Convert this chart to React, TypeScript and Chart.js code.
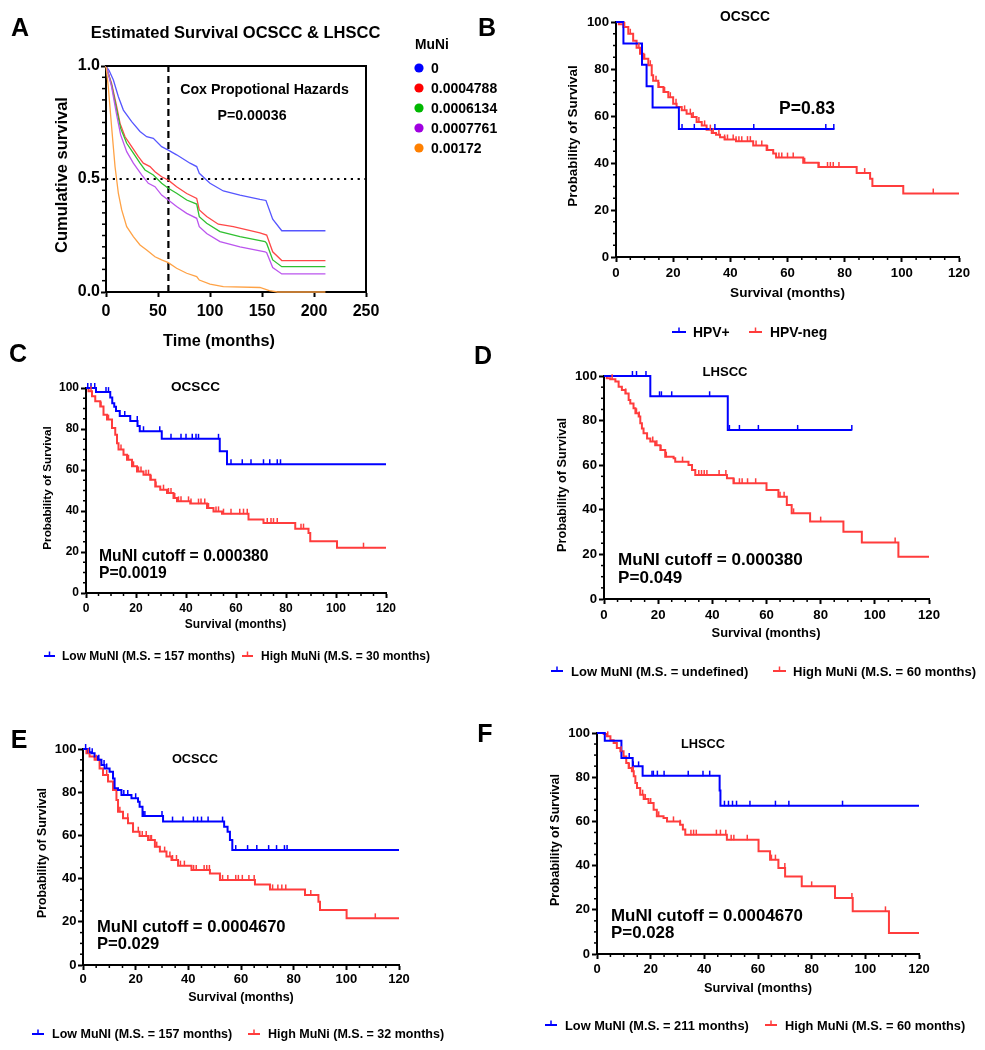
import React, { useEffect, useRef } from 'react';
import { Chart, registerables } from 'chart.js';
Chart.register(...registerables);

const FONT = '"Liberation Sans", Arial, Helvetica, sans-serif';
const BLUE = '#0000ff';
const RED = '#ff3c3c';

// ---------------- Panel A data (Cox model estimated survival) ----------------
const muniLevels = ['0', '0.0004788', '0.0006134', '0.0007761', '0.00172'];
const muniDotColors = ['#0000ff', '#ff0000', '#00b800', '#a000e0', '#ff8000'];
const muniLineColors = ['#5656ff', '#ff4848', '#30c030', '#bb55ee', '#ffa245'];
const aBlueT = [0, 3, 7.1, 11.9, 16.7, 24.7, 32.7, 39.1, 45.5, 53.5, 59.9, 67.9, 80.8, 87.2, 89.7, 100, 112.8, 128.8, 148, 153.8, 160.3, 169, 211];
const aBlueS = [1, 0.98, 0.938, 0.864, 0.805, 0.754, 0.71, 0.687, 0.68, 0.643, 0.628, 0.607, 0.57, 0.555, 0.525, 0.481, 0.447, 0.429, 0.41, 0.405, 0.322, 0.271, 0.271];
const aRedT = [0, 2, 5.4, 10.3, 13.5, 18.3, 24.7, 31.1, 35.9, 42.3, 47.1, 53.5, 59.9, 67.9, 77.6, 87.2, 89.7, 96.8, 108, 122.4, 148, 154.5, 160.3, 169, 211];
const aRedS = [1, 0.97, 0.923, 0.82, 0.746, 0.687, 0.643, 0.599, 0.57, 0.555, 0.532, 0.51, 0.495, 0.466, 0.436, 0.414, 0.363, 0.334, 0.3, 0.289, 0.262, 0.252, 0.178, 0.139, 0.139];
const aGreenT = [0, 2, 5.4, 10.3, 14.1, 19.9, 26.3, 32.7, 37.5, 45.5, 53.5, 59.9, 67.9, 77.6, 87.2, 89.7, 96.8, 109.6, 128.8, 152.9, 154.5, 160.3, 169, 211];
const aGreenS = [1, 0.97, 0.915, 0.805, 0.724, 0.658, 0.614, 0.57, 0.54, 0.518, 0.481, 0.459, 0.437, 0.407, 0.389, 0.333, 0.304, 0.267, 0.245, 0.223, 0.215, 0.142, 0.112, 0.112];
const aPurpleT = [0, 2, 5.4, 10.3, 14.1, 19.9, 26.3, 34.3, 40.7, 47.1, 53.5, 59.9, 67.9, 77.6, 87.2, 89.7, 96.8, 109.6, 128.8, 152.9, 154.5, 160.3, 169, 211];
const aPurpleS = [1, 0.97, 0.908, 0.783, 0.695, 0.621, 0.57, 0.518, 0.481, 0.466, 0.429, 0.407, 0.378, 0.348, 0.326, 0.289, 0.259, 0.223, 0.2, 0.178, 0.174, 0.108, 0.08, 0.08];
const aOrangeT = [0, 2.2, 5.4, 8.7, 11.9, 15.1, 19.9, 26.3, 32.7, 39.1, 47.1, 53.5, 59.9, 67.9, 77.6, 87.2, 89.7, 100, 112.8, 148, 157, 165, 211];
const aOrangeS = [1, 0.908, 0.73, 0.554, 0.436, 0.363, 0.289, 0.245, 0.208, 0.186, 0.156, 0.142, 0.13, 0.105, 0.083, 0.068, 0.053, 0.035, 0.024, 0.02, 0.006, 0, 0];
const aCutoffMonth = 60;
const aHalfSurvival = 0.5;

// ---------------- Panel B data (OCSCC, HPV) ----------------
const bPosT = [0, 2.6, 9.1, 10.7, 12.8, 22, 76.4];
const bPosS = [100, 90.9, 81.8, 72.7, 63.6, 54.5, 54.5];
const bPosCens = [23.1, 27.4, 34.6, 48.2, 73.4, 76.2];
const bNegT = [0, 1, 2.6, 4.3, 6, 7.2, 8.4, 9.6, 11.3, 12.5, 13, 14.8, 16.6, 18.3, 20, 21.2, 23, 24.7, 26.5, 28.2, 30, 31.7, 33.5, 35, 36.4, 38, 42, 48, 52.7, 55, 56, 65.5, 70.8, 84.2, 88.9, 89.7, 100.5, 120];
const bNegS = [100, 99, 97.9, 95, 92, 89, 86.5, 84.4, 81.6, 77.3, 75, 72.3, 70.2, 68, 65.2, 63.8, 62.4, 61, 59.6, 57.4, 56, 54.2, 52.8, 52, 51, 50, 49.3, 47.5, 45.5, 44, 42.3, 40.1, 38.3, 35.7, 33.3, 30.2, 27, 27];
const bNegCens = [3, 5, 8, 10, 12, 14, 15, 17, 19, 21, 24, 26, 27, 29, 31, 33, 34, 36, 38, 39, 41, 42, 43, 44, 46, 47, 49, 51, 53, 57, 58, 60, 62, 66, 71, 74, 75, 76, 78, 87, 111];

// ---------------- Panel C data (OCSCC, cutoff 0.000380) ----------------
const cLowT = [0, 4, 9.7, 10.5, 11.3, 12, 13.5, 17.7, 20.6, 21.5, 30.3, 53.5, 56.4, 120];
const cLowS = [100, 98, 95.4, 92.6, 90.9, 88.8, 86.3, 83.9, 81.5, 78.9, 75.2, 69.1, 62.8, 62.8];
const cLowCens = [0.7, 2, 3.5, 8, 9, 15.5, 20.5, 23, 29.5, 34, 38, 40, 42.5, 44, 45, 53, 58, 62.5, 66, 71, 73.5, 76.5, 77.8];
const cHighT = [0, 1, 2.4, 3.7, 5.7, 7, 8.4, 10.4, 11.7, 12.4, 13, 15, 16.4, 18.4, 20.4, 23, 25.7, 27.7, 29.7, 32.4, 35, 36.4, 41.7, 48.4, 51, 54.4, 65, 71, 83.7, 89, 89.7, 100.4, 120];
const cHighS = [100, 98.4, 96, 93.5, 91, 87, 84.6, 80.5, 77.2, 73, 70, 67.5, 65, 61.8, 59.3, 57.7, 55.3, 52, 50.4, 48.8, 46.3, 44.7, 43.6, 41.5, 39.8, 38.7, 35.8, 34.1, 31.4, 29.3, 25.2, 22.1, 22.1];
const cHighCens = [2, 6, 9, 14, 17, 19, 21, 22, 24, 25, 26, 28, 31, 33, 34, 35.5, 37, 38, 41, 42, 45, 46, 47.5, 49, 52, 53, 55, 58, 61.5, 63, 64.5, 72.5, 74, 75, 76.5, 86, 87, 111];

// ---------------- Panel D data (LHSCC, cutoff 0.000380) ----------------
const dLowT = [0, 17.1, 45.7, 91.5];
const dLowS = [100, 90.9, 75.8, 75.8];
const dLowCens = [10.5, 12, 15.5, 20.5, 21.2, 25, 39, 46.3, 50, 57, 71.5, 91.5];
const dHighT = [0, 1, 2.3, 4.2, 5.4, 6.6, 7.9, 9.1, 9.7, 10.9, 11.6, 12.8, 13.4, 14, 14.6, 15.9, 17.1, 18.9, 20.8, 22.6, 25.7, 26.3, 31.2, 32.5, 33.7, 45.4, 47.8, 60, 64.4, 67.5, 69.3, 76.1, 88.4, 95.2, 108.7, 120];
const dHighS = [100, 99, 98.5, 97.5, 95.2, 93.7, 92.2, 89.2, 87.7, 85.5, 83.3, 81.8, 78.8, 76.5, 74.3, 72, 70.6, 69, 66.8, 63.8, 63.1, 61.6, 60.1, 57.8, 55.6, 54.1, 51.9, 48.9, 45.9, 42.2, 38.4, 34.7, 30.2, 25.3, 19, 19];
const dHighCens = [3, 8, 12, 13, 18, 19.5, 21, 23, 29, 35, 36, 37, 38, 42.5, 45, 48, 50, 51, 53, 56, 65, 66.5, 70, 80, 107.5];

// ---------------- Panel E data (OCSCC, cutoff 0.0004670) ----------------
const eLowT = [0, 1.9, 3.2, 4.4, 5.7, 7, 8.2, 10.1, 11.4, 12, 13.3, 14.6, 18.4, 20.9, 21.5, 22.6, 30.4, 53.6, 54.9, 55.8, 56.7, 120];
const eLowS = [100, 98.5, 98, 96.5, 95, 92.6, 91, 89.5, 86.4, 81.8, 81, 78.7, 77.2, 75.6, 73.3, 69, 66.4, 64, 61.7, 57.9, 53.2, 53.2];
const eLowCens = [1, 2.5, 3.5, 6, 8, 9, 15.5, 17, 20, 23, 23.5, 30, 34, 38, 42, 43.5, 45, 47.5, 53, 58, 62.5, 66, 70.5, 73.5, 76.5, 77.5];
const eHighT = [0, 1.3, 2.5, 4.4, 6.3, 7.6, 9.5, 11.4, 12.7, 13.3, 15.2, 17.1, 19, 21.5, 24.7, 27.3, 29.2, 31.7, 33.6, 36.1, 41.2, 48.2, 52, 65.3, 71, 84.3, 89.4, 90, 100.1, 120];
const eHighS = [100, 98, 96.5, 95, 91, 88, 84.9, 81, 76.4, 71, 67.9, 65.6, 61.7, 59.7, 57.9, 54.8, 52.5, 50.2, 48.6, 46, 44, 42.4, 39.4, 37.3, 35, 32.4, 29.3, 25.5, 21.6, 21.6];
const eHighCens = [2, 5, 9, 14, 17, 19, 21, 22.5, 24, 25.5, 26, 28, 31, 33, 34, 35.5, 37, 38.5, 42, 43, 46, 47, 48, 52, 53, 55, 58, 59, 60.5, 63, 65, 72, 74, 75.5, 77, 86.5, 111];

// ---------------- Panel F data (LHSCC, cutoff 0.0004670) ----------------
const fLowT = [0, 2.9, 9.1, 13.3, 17, 45.7, 46, 120];
const fLowS = [100, 96.5, 88.7, 84.9, 80.7, 74, 67.1, 67.1];
const fLowCens = [12, 13.5, 15.5, 20.5, 21, 22.5, 25, 34, 39.5, 42, 47.5, 49, 50.5, 52, 57, 66.5, 71.5, 91.5];
const fHighT = [0, 2.5, 3.7, 5, 6.2, 7.4, 8.7, 9.9, 10.9, 11.8, 13, 13.7, 14.3, 14.9, 16.1, 17.4, 19.2, 21.1, 22.3, 24.8, 26.1, 31, 32, 32.9, 48.4, 60.2, 64.5, 67.6, 70.1, 76.3, 88.7, 95.3, 108.8, 120];
const fHighS = [100, 99.5, 98.5, 96.7, 95.5, 93.2, 91.7, 89.4, 86.4, 84.2, 82.7, 80.4, 77.4, 75.1, 72.1, 70.1, 68.3, 65.3, 62.3, 61.5, 60, 58.5, 56.3, 54, 51.7, 46.5, 42.7, 38.9, 35.1, 30.6, 25.3, 19.3, 9.5, 9.5];
const fHighCens = [4, 9, 12, 13.5, 17, 18, 20, 23, 28.5, 31, 35, 36, 37, 44.5, 46, 48, 50, 51, 56, 65, 66.5, 70, 80, 95, 107.5];

// ---------------- helpers ----------------
type Box = { l: number; t: number; w: number; h: number };
type Area = { l: number; t: number; r: number; b: number };
type Txt = { text: string; x: number; y: number; size: number; align?: CanvasTextAlign; rot?: boolean };
type Leg = { x1: number; x2: number; y: number; color: string; label: string; tx: number; size: number };
type Dot = { x: number; y: number; color: string; label: string; tx: number; size: number };
type KM = { T: number[]; S: number[]; cens: number[]; color: string };
type Spec = {
  box: Box; area: Area;
  xMax: number; xStep: number; xMinor: number;
  yMax: number; yStep: number; yMinor: number; yDigits: number;
  tickSize: number; xPad: number; yPad: number; tickLen: number; minorLen: number;
  datasets: any[]; km: KM[]; texts: Txt[]; legend: Leg[]; dots: Dot[]; boxed: boolean;
};

function stepAt(T: number[], S: number[], t: number) {
  let v = S[0];
  for (let i = 0; i < T.length; i++) {
    if (T[i] <= t) v = S[i];
    else break;
  }
  return v;
}

function kmDataset(T: number[], S: number[], color: string) {
  return {
    data: T.map((t, i) => ({ x: t, y: S[i] })),
    stepped: 'before',
    borderColor: color,
    borderWidth: 2,
    pointRadius: 0,
    fill: false,
    clip: false,
  };
}

function smoothDataset(T: number[], S: number[], color: string) {
  return {
    data: T.map((t, i) => ({ x: t, y: S[i] })),
    borderColor: color,
    borderWidth: 1.3,
    pointRadius: 0,
    fill: false,
    tension: 0,
    clip: false,
  };
}

// ---------------- panel specs ----------------
const specA: Spec = {
  box: { l: 0, t: 0, w: 505, h: 356 },
  area: { l: 106, t: 66, r: 366, b: 292 },
  xMax: 250, xStep: 50, xMinor: 0,
  yMax: 1, yStep: 0.5, yMinor: 0.05, yDigits: 1,
  tickSize: 16, xPad: 5, yPad: 1, tickLen: 5, minorLen: 4,
  datasets: [
    smoothDataset(aOrangeT, aOrangeS, muniLineColors[4]),
    smoothDataset(aPurpleT, aPurpleS, muniLineColors[3]),
    smoothDataset(aGreenT, aGreenS, muniLineColors[2]),
    smoothDataset(aRedT, aRedS, muniLineColors[1]),
    smoothDataset(aBlueT, aBlueS, muniLineColors[0]),
    {
      data: [{ x: aCutoffMonth, y: 0 }, { x: aCutoffMonth, y: 1 }],
      borderColor: '#000', borderWidth: 2.2, borderDash: [7, 4], pointRadius: 0, clip: false,
    },
    {
      data: [{ x: 0, y: aHalfSurvival }, { x: 250, y: aHalfSurvival }],
      borderColor: '#000', borderWidth: 2, borderDash: [2.2, 4.6], pointRadius: 0, clip: false,
    },
  ],
  km: [],
  texts: [
    { text: 'Estimated Survival OCSCC & LHSCC', x: 235.5, y: 33, size: 16.5 },
    { text: 'Cox Propotional Hazards', x: 264.5, y: 90, size: 14.2 },
    { text: 'P=0.00036', x: 252, y: 116, size: 14.2 },
    { text: 'Cumulative survival', x: 62, y: 175, size: 16.5, rot: true },
    { text: 'Time (months)', x: 219, y: 342, size: 16.3 },
    { text: 'MuNi', x: 415, y: 45, size: 13.8, align: 'left' },
  ],
  legend: [],
  dots: muniLevels.map((lab, i) => ({ x: 419, y: 68 + i * 20, color: muniDotColors[i], label: lab, tx: 431, size: 14 })),
  boxed: true,
};

function kmSpec(o: {
  box: Box; area: Area; tickSize: number; xPad: number; yPad: number;
  low: KM; high: KM; texts: Txt[]; legend: Leg[];
}): Spec {
  return {
    box: o.box, area: o.area,
    xMax: 120, xStep: 20, xMinor: 5,
    yMax: 100, yStep: 20, yMinor: 5, yDigits: 0,
    tickSize: o.tickSize, xPad: o.xPad, yPad: o.yPad, tickLen: 5, minorLen: 3,
    datasets: [kmDataset(o.low.T, o.low.S, o.low.color), kmDataset(o.high.T, o.high.S, o.high.color)],
    km: [o.low, o.high],
    texts: o.texts, legend: o.legend, dots: [], boxed: false,
  };
}

const specB = kmSpec({
  box: { l: 505, t: 0, w: 480, h: 350 },
  area: { l: 616, t: 22, r: 959, b: 257 },
  tickSize: 13.2, xPad: 3.5, yPad: 2,
  low: { T: bPosT, S: bPosS, cens: bPosCens, color: BLUE },
  high: { T: bNegT, S: bNegS, cens: bNegCens, color: RED },
  texts: [
    { text: 'OCSCC', x: 745, y: 17, size: 13.8 },
    { text: 'P=0.83', x: 779, y: 109, size: 17.5, align: 'left' },
    { text: 'Probability of Survival', x: 573, y: 136, size: 13.4, rot: true },
    { text: 'Survival (months)', x: 787.5, y: 293, size: 13.6 },
  ],
  legend: [
    { x1: 672, x2: 686, y: 332, color: BLUE, label: 'HPV+', tx: 693, size: 13.9 },
    { x1: 749, x2: 762, y: 332, color: RED, label: 'HPV-neg', tx: 770, size: 13.9 },
  ],
});

const specC = kmSpec({
  box: { l: 0, t: 360, w: 505, h: 320 },
  area: { l: 86, t: 388, r: 386, b: 593 },
  tickSize: 12, xPad: 3, yPad: 2,
  low: { T: cLowT, S: cLowS, cens: cLowCens, color: BLUE },
  high: { T: cHighT, S: cHighS, cens: cHighCens, color: RED },
  texts: [
    { text: 'OCSCC', x: 195.5, y: 387, size: 13.6 },
    { text: 'MuNI cutoff = 0.000380', x: 99, y: 557, size: 15.7, align: 'left' },
    { text: 'P=0.0019', x: 99, y: 574, size: 15.7, align: 'left' },
    { text: 'Probability of Survival', x: 48, y: 488, size: 11.7, rot: true },
    { text: 'Survival (months)', x: 235.5, y: 625, size: 12 },
  ],
  legend: [
    { x1: 44, x2: 55, y: 656, color: BLUE, label: 'Low MuNI (M.S. = 157 months)', tx: 62, size: 12 },
    { x1: 242, x2: 253, y: 656, color: RED, label: 'High MuNi (M.S. = 30 months)', tx: 261, size: 12 },
  ],
});

const specD = kmSpec({
  box: { l: 505, t: 360, w: 480, h: 325 },
  area: { l: 604, t: 376, r: 929, b: 599 },
  tickSize: 13.2, xPad: 3.5, yPad: 2,
  low: { T: dLowT, S: dLowS, cens: dLowCens, color: BLUE },
  high: { T: dHighT, S: dHighS, cens: dHighCens, color: RED },
  texts: [
    { text: 'LHSCC', x: 725, y: 372, size: 13.1 },
    { text: 'MuNI cutoff = 0.000380', x: 618, y: 560, size: 17.1, align: 'left' },
    { text: 'P=0.049', x: 618, y: 578, size: 17.1, align: 'left' },
    { text: 'Probability of Survival', x: 562, y: 485, size: 12.7, rot: true },
    { text: 'Survival (months)', x: 766, y: 633, size: 12.9 },
  ],
  legend: [
    { x1: 551, x2: 563, y: 671, color: BLUE, label: 'Low MuNI (M.S. = undefined)', tx: 571, size: 13 },
    { x1: 773, x2: 786, y: 671, color: RED, label: 'High MuNi (M.S. = 60 months)', tx: 793, size: 13 },
  ],
});

const specE = kmSpec({
  box: { l: 0, t: 700, w: 505, h: 350 },
  area: { l: 83, t: 749, r: 399, b: 965 },
  tickSize: 13, xPad: 2, yPad: 1.5,
  low: { T: eLowT, S: eLowS, cens: eLowCens, color: BLUE },
  high: { T: eHighT, S: eHighS, cens: eHighCens, color: RED },
  texts: [
    { text: 'OCSCC', x: 195, y: 759, size: 12.8 },
    { text: 'MuNI cutoff = 0.0004670', x: 97, y: 927, size: 16.6, align: 'left' },
    { text: 'P=0.029', x: 97, y: 944, size: 16.6, align: 'left' },
    { text: 'Probability of Survival', x: 43, y: 853, size: 12.3, rot: true },
    { text: 'Survival (months)', x: 241, y: 998, size: 12.5 },
  ],
  legend: [
    { x1: 32, x2: 44, y: 1034, color: BLUE, label: 'Low MuNI (M.S. = 157 months)', tx: 52, size: 12.5 },
    { x1: 248, x2: 260, y: 1034, color: RED, label: 'High MuNi (M.S. = 32 months)', tx: 268, size: 12.5 },
  ],
});

const specF = kmSpec({
  box: { l: 505, t: 700, w: 480, h: 350 },
  area: { l: 597, t: 733, r: 919, b: 954 },
  tickSize: 13, xPad: 2.5, yPad: 2,
  low: { T: fLowT, S: fLowS, cens: fLowCens, color: BLUE },
  high: { T: fHighT, S: fHighS, cens: fHighCens, color: RED },
  texts: [
    { text: 'LHSCC', x: 703, y: 744, size: 12.8 },
    { text: 'MuNI cutoff = 0.0004670', x: 611, y: 916, size: 16.9, align: 'left' },
    { text: 'P=0.028', x: 611, y: 933, size: 16.9, align: 'left' },
    { text: 'Probability of Survival', x: 556, y: 840, size: 12.5, rot: true },
    { text: 'Survival (months)', x: 758, y: 988, size: 12.8 },
  ],
  legend: [
    { x1: 545, x2: 557, y: 1025, color: BLUE, label: 'Low MuNI (M.S. = 211 months)', tx: 565, size: 12.8 },
    { x1: 765, x2: 777, y: 1025, color: RED, label: 'High MuNi (M.S. = 60 months)', tx: 785, size: 12.8 },
  ],
});

const panelLetters = [
  { l: 'A', x: 20, y: 27 },
  { l: 'B', x: 487, y: 27 },
  { l: 'C', x: 18, y: 353 },
  { l: 'D', x: 483, y: 355 },
  { l: 'E', x: 19, y: 739 },
  { l: 'F', x: 485, y: 733 },
];

// ---------------- components ----------------
function Panel({ spec }: { spec: Spec }) {
  const ref = useRef<HTMLCanvasElement>(null);
  useEffect(() => {
    const canvas = ref.current;
    if (!canvas) return;
    const { box, area } = spec;
    const tickFont = { family: FONT, size: spec.tickSize, weight: 'bold' as const };
    const line = (ctx: CanvasRenderingContext2D, x1: number, y1: number, x2: number, y2: number) => {
      ctx.beginPath();
      ctx.moveTo(x1, y1);
      ctx.lineTo(x2, y2);
      ctx.stroke();
    };
    const overlay = {
      id: 'overlay',
      afterDatasetsDraw(chart: any) {
        const ctx: CanvasRenderingContext2D = chart.ctx;
        const xs = chart.scales.x;
        const ys = chart.scales.y;
        ctx.save();
        ctx.lineWidth = 1.5;
        for (const k of spec.km) {
          ctx.strokeStyle = k.color;
          for (const c of k.cens) {
            const px = xs.getPixelForValue(c);
            const py = ys.getPixelForValue(stepAt(k.T, k.S, c));
            line(ctx, px, py + 0.5, px, py - 5);
          }
        }
        ctx.restore();
      },
      afterDraw(chart: any) {
        const ctx: CanvasRenderingContext2D = chart.ctx;
        const xs = chart.scales.x;
        const ys = chart.scales.y;
        const ca = chart.chartArea;
        ctx.save();
        ctx.strokeStyle = '#000';
        ctx.lineWidth = 1.5;
        if (spec.xMinor) {
          for (let k = 1; k * spec.xMinor < spec.xMax; k++) {
            const v = k * spec.xMinor;
            const r = v / spec.xStep;
            if (Math.abs(r - Math.round(r)) < 1e-6) continue;
            const px = xs.getPixelForValue(v);
            line(ctx, px, ca.bottom, px, ca.bottom + spec.minorLen);
          }
        }
        if (spec.yMinor) {
          for (let k = 1; k * spec.yMinor < spec.yMax - 1e-9; k++) {
            const v = k * spec.yMinor;
            const r = v / spec.yStep;
            if (Math.abs(r - Math.round(r)) < 1e-6) continue;
            const py = ys.getPixelForValue(v);
            line(ctx, ca.left, py, ca.left - spec.minorLen, py);
          }
        }
        if (spec.boxed) {
          ctx.lineWidth = 2;
          ctx.beginPath();
          ctx.moveTo(ca.left, ca.top);
          ctx.lineTo(ca.right, ca.top);
          ctx.lineTo(ca.right, ca.bottom);
          ctx.stroke();
        }
        ctx.fillStyle = '#000';
        ctx.textBaseline = 'middle';
        for (const t of spec.texts) {
          ctx.font = `bold ${t.size}px ${FONT}`;
          const x = t.x - box.l;
          const y = t.y - box.t;
          if (t.rot) {
            ctx.save();
            ctx.translate(x, y);
            ctx.rotate(-Math.PI / 2);
            ctx.textAlign = 'center';
            ctx.fillText(t.text, 0, 0);
            ctx.restore();
          } else {
            ctx.textAlign = t.align || 'center';
            ctx.fillText(t.text, x, y);
          }
        }
        for (const lg of spec.legend) {
          const y = lg.y - box.t;
          ctx.strokeStyle = lg.color;
          ctx.lineWidth = 2;
          line(ctx, lg.x1 - box.l, y, lg.x2 - box.l, y);
          const mx = (lg.x1 + lg.x2) / 2 - box.l;
          ctx.lineWidth = 1.5;
          line(ctx, mx, y, mx, y - 4.5);
          ctx.fillStyle = '#000';
          ctx.font = `bold ${lg.size}px ${FONT}`;
          ctx.textAlign = 'left';
          ctx.fillText(lg.label, lg.tx - box.l, y + 1);
        }
        for (const d of spec.dots) {
          ctx.fillStyle = d.color;
          ctx.beginPath();
          ctx.arc(d.x - box.l, d.y - box.t, 4.6, 0, Math.PI * 2);
          ctx.fill();
          ctx.fillStyle = '#000';
          ctx.font = `bold ${d.size}px ${FONT}`;
          ctx.textAlign = 'left';
          ctx.fillText(d.label, d.tx - box.l, d.y - box.t + 1);
        }
        ctx.restore();
      },
    };
    const chart = new Chart(canvas, {
      type: 'line',
      data: { datasets: spec.datasets },
      options: {
        responsive: false,
        maintainAspectRatio: false,
        animation: false,
        events: [],
        layout: {
          padding: { top: area.t - box.t, right: box.l + box.w - area.r, left: 0, bottom: 0 },
        },
        plugins: { legend: { display: false }, tooltip: { enabled: false }, title: { display: false } },
        scales: {
          x: {
            type: 'linear',
            min: 0,
            max: spec.xMax,
            ticks: {
              stepSize: spec.xStep, font: tickFont, color: '#000', padding: spec.xPad,
              maxRotation: 0, minRotation: 0, autoSkip: false,
              callback: (v: any) => String(v),
            },
            grid: { drawOnChartArea: false, drawTicks: true, tickLength: spec.tickLen, tickWidth: 2, tickColor: '#000' },
            border: { display: true, color: '#000', width: 2 },
            afterFit: (s: any) => { s.height = box.t + box.h - area.b; },
          },
          y: {
            type: 'linear',
            min: 0,
            max: spec.yMax,
            ticks: {
              stepSize: spec.yStep, font: tickFont, color: '#000', padding: spec.yPad, autoSkip: false,
              callback: (v: any) => Number(v).toFixed(spec.yDigits),
            },
            grid: { drawOnChartArea: false, drawTicks: true, tickLength: spec.tickLen, tickWidth: 2, tickColor: '#000' },
            border: { display: true, color: '#000', width: 2 },
            afterFit: (s: any) => { s.width = area.l - box.l; },
          },
        },
      } as any,
      plugins: [overlay],
    });
    return () => chart.destroy();
  }, [spec]);
  const { box } = spec;
  return (
    <canvas
      ref={ref}
      width={box.w}
      height={box.h}
      style={{ position: 'absolute', left: box.l, top: box.t, width: box.w, height: box.h }}
    />
  );
}

export default function App() {
  const specs = [specA, specB, specC, specD, specE, specF];
  return (
    <div style={{ position: 'absolute', left: 0, top: 0, width: 985, height: 1050, background: '#fff', overflow: 'hidden' }}>
      {specs.map((s, i) => (
        <Panel key={i} spec={s} />
      ))}
      {panelLetters.map((p) => (
        <div
          key={p.l}
          style={{
            position: 'absolute', left: p.x, top: p.y, transform: 'translate(-50%, -50%)',
            font: `bold 25px ${FONT}`, lineHeight: 1, color: '#000', zIndex: 2,
          }}
        >
          {p.l}
        </div>
      ))}
    </div>
  );
}
